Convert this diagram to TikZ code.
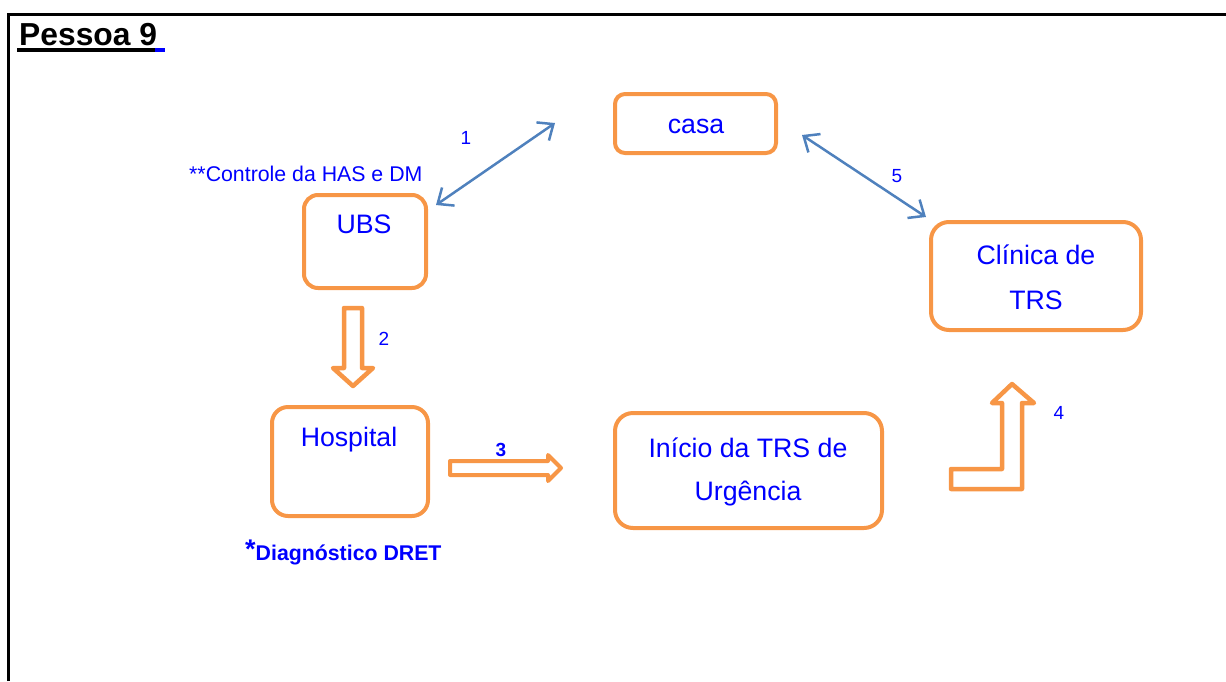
\documentclass[tikz,border=0pt]{standalone}
\usepackage{fontspec}
\setmainfont{Liberation Sans}
\usetikzlibrary{arrows.meta}
\definecolor{boxorange}{HTML}{F79646}
\definecolor{txtblue}{HTML}{0000FF}
\definecolor{linkblue}{HTML}{4F81BD}
\begin{document}
\begin{tikzpicture}[x=1pt,y=-1pt,
  place/.style={draw=boxorange,line width=4pt,rounded corners=14pt,inner sep=0pt,outer sep=0pt},
  placetext/.style={text=txtblue,font=\fontsize{26.7}{30}\selectfont,inner sep=0pt,yshift=-2pt},
  steplabel/.style={text=txtblue,font=\fontsize{19}{22}\selectfont,inner sep=0pt},
  hollow/.style={draw=boxorange,fill=white,line width=4.5pt,line join=round},
  link/.style={draw=linkblue,line width=2.5pt,{Straight Barb[length=13pt,width=22pt,line width=2.5pt]}-{Straight Barb[length=13pt,width=22pt,line width=2.5pt]}}]
  \useasboundingbox (0,0) rectangle (1226,681);

  % frame
  \draw[line width=3pt] (8,681) -- (8,14) -- (1226,14);

  % title
  \node[anchor=base west,inner sep=0pt,font=\bfseries\fontsize{31.8}{34}\selectfont] (title) at (19,45) {Pessoa 9};
  \draw[line width=3.5pt] (17,50) -- (155,50);
  \draw[line width=3.5pt,txtblue] (155,50) -- (165,50);

  % places
  \node[place,rounded corners=10pt,minimum width=161pt,minimum height=59pt] (casa) at (695.5,123.5) {};
  \node[placetext] (casat) at (696,124) {casa};

  \node[place,minimum width=122pt,minimum height=93pt] (ubs) at (365,241.5) {};
  \node[placetext] (ubst) at (364,222) {UBS};

  \node[place,rounded corners=18pt,minimum width=210pt,minimum height=108pt] (clinica) at (1036,276) {};
  \node[placetext] (clinicat1) at (1036,253) {Clínica de};
  \node[placetext] (clinicat2) at (1036,298) {TRS};

  \node[place,rounded corners=16pt,minimum width=156pt,minimum height=109pt] (hospital) at (350,461.5) {};
  \node[placetext] (hospitalt) at (349,438) {Hospital};

  \node[place,rounded corners=18pt,minimum width=267pt,minimum height=115pt] (inicio) at (748.5,470.5) {};
  \node[placetext] (iniciot1) at (748,446) {Início da TRS de};
  \node[placetext] (iniciot2) at (748,492) {Urgência};

  % notes
  \node[anchor=west,text=txtblue,inner sep=0pt,font=\fontsize{21.3}{24}\selectfont] (controle) at (189,174) {**Controle da HAS e DM};
  \node[anchor=west,text=txtblue,inner sep=0pt,font=\bfseries\fontsize{21.3}{24}\selectfont] (diag) at (245,552)
    {\raisebox{2pt}{\fontsize{27}{27}\selectfont*}Diagnóstico DRET};

  % two-way links
  \coordinate (l1a) at (436,205);
  \coordinate (l1b) at (555,123);
  \draw[link] (l1a) -- (l1b);
  \coordinate (l5a) at (802,135);
  \coordinate (l5b) at (926,217);
  \draw[link] (l5a) -- (l5b);

  % hollow block arrows
  \draw[hollow] (344,308) -- (362,308) -- (362,368) -- (373,368) -- (353,386)
                -- (333,368) -- (344,368) -- cycle;
  \draw[hollow,line width=4pt] (450,461) -- (548,461) -- (548,455) -- (561,468)
                -- (548,481) -- (548,475) -- (450,475) -- cycle;
  \draw[hollow] (951,469) -- (1002,469) -- (1002,403) -- (992,403) -- (1012,384)
                -- (1034,403) -- (1022,403) -- (1022,489) -- (951,489) -- cycle;

  % step numbers
  \node[steplabel] (n1) at (466,138) {1};
  \node[steplabel] (n2) at (384,339) {2};
  \node[steplabel,font=\bfseries\fontsize{19}{22}\selectfont] (n3) at (501,450) {3};
  \node[steplabel] (n4) at (1059,413) {4};
  \node[steplabel] (n5) at (897,176) {5};
\end{tikzpicture}
\end{document}
